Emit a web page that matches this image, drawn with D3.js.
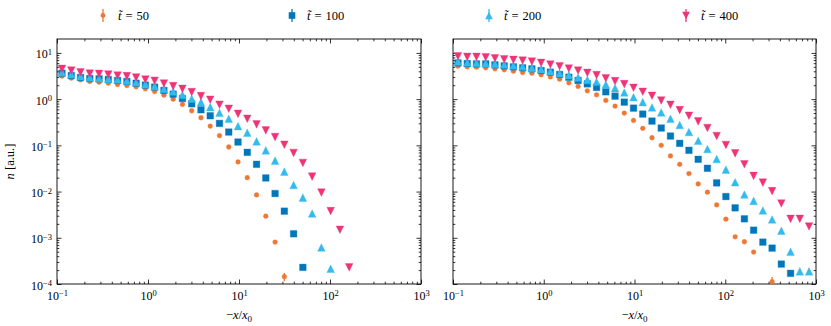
<!DOCTYPE html>
<html><head><meta charset="utf-8">
<script src="https://cdn.jsdelivr.net/npm/d3@7"></script>
<style>
body{margin:0;background:#fff}
svg{display:block}
svg text{font-family:"Liberation Serif","Times New Roman","DejaVu Serif",serif !important;fill:#000}
</style>
</head><body><svg id="c" width="831" height="326" font-family="Liberation Serif, DejaVu Serif, serif"></svg>
<script>
// ---------------- data ----------------
const seriesLabels = ["50", "100", "200", "400"];
const seriesColors = ["#EE7733", "#0077BB", "#33BBEE", "#EE3377"];
const seriesShapes = ["circle", "square", "up", "down"];

// bin centres (-x/x0), shared by both panels
const xBins = [0.1135,0.1435,0.1814,0.2293,0.2899,0.3664,0.4632,0.5856,0.7402,0.9358,
  1.183,1.496,1.891,2.390,3.021,3.819,4.829,6.104,7.716,9.754,
  12.33,15.59,19.70,24.91,31.49,39.81,50.33,63.62,80.43,101.7,
  128.5,162.5,205.4,259.7,328.3,415.0,524.6,663.2,838.4];

// left panel
const leftT50  = [3.14,2.84,2.61,2.41,2.33,2.21,2.07,1.97,1.85,1.67,1.46,1.22,1.0,0.767,0.56,0.395,0.261,0.162,0.092,0.0437,0.0200,0.00847,0.00294,0.000806,0.000144];
const leftT100 = [3.64,3.24,2.94,2.79,2.75,2.66,2.53,2.41,2.21,2.01,1.82,1.54,1.28,1.03,0.793,0.589,0.437,0.298,0.194,0.118,0.0706,0.0389,0.0197,0.00906,0.00377,0.00122,0.000229];
const leftT200 = [3.83,3.46,3.14,2.94,2.84,2.75,2.66,2.49,2.33,2.11,1.91,1.67,1.46,1.24,1.02,0.861,0.672,0.507,0.376,0.261,0.188,0.122,0.078,0.0467,0.027,0.0139,0.0074,0.00335,0.000618,0.000214];
const leftT400 = [4.52,4.16,3.83,3.58,3.52,3.41,3.24,3.14,2.94,2.66,2.49,2.18,1.91,1.67,1.42,1.16,0.97,0.755,0.62,0.48,0.376,0.284,0.211,0.151,0.103,0.0684,0.0416,0.0211,0.0095,0.00377,0.00149,0.000229];

// right panel
const rightT50  = [5.16,4.99,4.91,4.75,4.52,4.30,4.02,3.76,3.64,3.35,3.03,2.70,2.25,1.88,1.51,1.24,0.936,0.706,0.499,0.346,0.233,0.146,0.100,0.0589,0.0389,0.0245,0.0146,0.00968,0.00515,0.00253,0.00105,0.00082,0.00049,null,0.000112];
const rightT100 = [6.08,5.89,5.79,5.79,5.51,5.24,4.99,4.75,4.52,4.16,3.83,3.41,2.98,2.53,2.14,1.79,1.44,1.16,0.861,0.639,0.475,0.335,0.237,0.159,0.1104,0.078,0.0499,0.0319,0.0154,0.0078,0.00444,0.00257,0.00146,0.000806,0.000598,0.00027,0.00017];
const rightT200 = [6.50,6.19,6.08,5.98,5.79,5.60,5.33,5.07,4.75,4.44,4.02,3.64,3.30,2.94,2.61,2.37,2.07,1.73,1.39,1.10,0.861,0.661,0.515,0.376,0.275,0.194,0.126,0.0834,0.0507,0.0299,0.0159,0.00861,0.00629,0.00389,0.00249,0.00142,0.000499,0.000188,0.000188];
const rightT400 = [8.48,8.20,8.20,8.06,7.67,7.30,7.06,6.83,6.50,6.08,5.60,5.16,4.59,4.16,3.70,3.30,2.84,2.45,2.11,1.76,1.44,1.18,0.936,0.755,0.579,0.437,0.330,0.237,0.159,0.1016,0.0672,0.0389,0.0218,0.0156,0.0102,0.00551,0.00257,0.00257,0.00176];

// visible error bars (absolute), only the last t=50 points carry a visible one
const leftErrT50  = {24: 0.00003};
const rightErrT50 = {34: 0.00003};

const xTickValues = [0.1, 1, 10, 100, 1000];
const yTickValues = [1e-4, 1e-3, 1e-2, 1e-1, 1, 10];

// ---------------- drawing ----------------
const FONT = '"Liberation Serif","DejaVu Serif",serif';
const svg = d3.select("#c");
const yTop = 39, yBottom = 284;
const panels = [
  {x0: 57,  x1: 421, showY: true,  series: [leftT50, leftT100, leftT200, leftT400],  err: leftErrT50},
  {x0: 453, x1: 816, showY: false, series: [rightT50, rightT100, rightT200, rightT400], err: rightErrT50}
];

function minorTicks(lo, hi) {
  const out = [];
  for (let e = Math.floor(Math.log10(lo)); e <= Math.ceil(Math.log10(hi)); e++) {
    for (let m = 2; m <= 9; m++) {
      const v = m * Math.pow(10, e);
      if (v > lo && v < hi) out.push(v);
    }
  }
  return out;
}
function expText(v) {
  const e = Math.round(Math.log10(v));
  return (e < 0 ? "\u2212" : "") + Math.abs(e);
}
function symbolPath(shape) {
  if (shape === "circle") return d3.symbol(d3.symbolCircle, Math.PI * 2.4 * 2.4)();
  if (shape === "square") { const s = 3.3; return `M${-s},${-s}H${s}V${s}H${-s}Z`; }
  const h = 3.8;
  if (shape === "up") return `M0,${-h}L${h},${h}L${-h},${h}Z`;
  return `M0,${h}L${h},${-h}L${-h},${-h}Z`;
}

panels.forEach((p, pi) => {
  const x = d3.scaleLog().domain([0.1, 1000]).range([p.x0, p.x1]);
  const y = d3.scaleLog().domain([1e-4, 20]).range([yBottom, yTop]);
  const g = svg.append("g");

  const clipId = "clip" + pi;
  svg.append("clipPath").attr("id", clipId).append("rect")
    .attr("x", p.x0).attr("y", yTop).attr("width", p.x1 - p.x0).attr("height", yBottom - yTop);

  const xMinor = minorTicks(0.1, 1000);
  const yMinor = minorTicks(1e-4, 20);

  function styleAxis(sel) {
    sel.attr("font-family", FONT);
    sel.select(".domain").remove();
    sel.selectAll(".tick line").attr("stroke", "#000").attr("stroke-width", 0.8);
  }
  // bottom
  g.append("g").attr("transform", `translate(0,${yBottom})`)
    .call(d3.axisBottom(x).tickValues(xTickValues).tickSizeInner(-4.5).tickSizeOuter(0).tickPadding(7)
      .tickFormat(() => ""))
    .call(styleAxis)
    .call(s => s.selectAll(".tick text").each(function(d) {
      const t = d3.select(this).attr("font-size", "12px").style("font-family", FONT);
      t.append("tspan").text("10");
      t.append("tspan").attr("dy", "-0.42em").attr("font-size", "8.5px").text(expText(d));
    }));
  g.append("g").attr("transform", `translate(0,${yBottom})`)
    .call(d3.axisBottom(x).tickValues(xMinor).tickSizeInner(-2.3).tickSizeOuter(0).tickFormat(() => ""))
    .call(styleAxis);
  // top
  g.append("g").attr("transform", `translate(0,${yTop})`)
    .call(d3.axisTop(x).tickValues(xTickValues).tickSizeInner(-4.5).tickSizeOuter(0).tickFormat(() => ""))
    .call(styleAxis);
  g.append("g").attr("transform", `translate(0,${yTop})`)
    .call(d3.axisTop(x).tickValues(xMinor).tickSizeInner(-2.3).tickSizeOuter(0).tickFormat(() => ""))
    .call(styleAxis);
  // left
  g.append("g").attr("transform", `translate(${p.x0},0)`)
    .call(d3.axisLeft(y).tickValues(yTickValues).tickSizeInner(-4.5).tickSizeOuter(0).tickPadding(5)
      .tickFormat(() => ""))
    .call(styleAxis)
    .call(s => {
      if (!p.showY) return;
      s.selectAll(".tick text").each(function(d) {
        const t = d3.select(this).attr("font-size", "12px").attr("dy", "0.42em").attr("x", -5)
          .style("font-family", FONT);
        t.append("tspan").text("10");
        t.append("tspan").attr("dy", "-0.42em").attr("font-size", "8.5px").text(expText(d));
      });
    });
  g.append("g").attr("transform", `translate(${p.x0},0)`)
    .call(d3.axisLeft(y).tickValues(yMinor).tickSizeInner(-2.3).tickSizeOuter(0).tickFormat(() => ""))
    .call(styleAxis);
  // right
  g.append("g").attr("transform", `translate(${p.x1},0)`)
    .call(d3.axisRight(y).tickValues(yTickValues).tickSizeInner(-4.5).tickSizeOuter(0).tickFormat(() => ""))
    .call(styleAxis);
  g.append("g").attr("transform", `translate(${p.x1},0)`)
    .call(d3.axisRight(y).tickValues(yMinor).tickSizeInner(-2.3).tickSizeOuter(0).tickFormat(() => ""))
    .call(styleAxis);

  // frame
  g.append("rect").attr("x", p.x0).attr("y", yTop).attr("width", p.x1 - p.x0).attr("height", yBottom - yTop)
    .attr("fill", "none").attr("stroke", "#000").attr("stroke-width", 0.9);

  // data
  const dg = g.append("g").attr("clip-path", `url(#${clipId})`);
  p.series.forEach((vals, si) => {
    const pts = vals.map((v, i) => ({x: xBins[i], v, i})).filter(d => d.v != null);
    const sg = dg.append("g");
    pts.forEach(d => {
      if (si === 0 && p.err[d.i] != null) {
        const e = p.err[d.i];
        sg.append("line").attr("x1", x(d.x)).attr("x2", x(d.x))
          .attr("y1", y(d.v + e)).attr("y2", y(Math.max(d.v - e, 1e-6)))
          .attr("stroke", seriesColors[si]).attr("stroke-width", 1.3);
      }
    });
    sg.selectAll("path").data(pts).join("path")
      .attr("d", symbolPath(seriesShapes[si]))
      .attr("transform", d => `translate(${x(d.x)},${y(d.v)})`)
      .attr("fill", seriesColors[si])
      .attr("stroke", seriesColors[si]).attr("stroke-opacity", 0.35).attr("stroke-width", 1);
  });

  // x label
  const xl = g.append("text").attr("x", (p.x0 + p.x1) / 2).attr("y", 319)
    .attr("text-anchor", "middle").attr("font-size", "12.5px").style("font-family", FONT);
  xl.append("tspan").text("\u2212");
  xl.append("tspan").attr("font-style", "italic").text("x");
  xl.append("tspan").text("/");
  xl.append("tspan").attr("font-style", "italic").text("x");
  xl.append("tspan").attr("dy", "0.3em").attr("font-size", "9px").text("0");
});

// y label
const yl = svg.append("text").attr("transform", `translate(14,${(yTop + yBottom) / 2}) rotate(-90)`)
  .attr("text-anchor", "middle").attr("font-size", "12.5px").style("font-family", FONT);
yl.append("tspan").attr("font-style", "italic").text("n");
yl.append("tspan").text(" [a.u.]");

// legend
const legendX = [103, 292, 489, 686];
seriesLabels.forEach((lab, i) => {
  const lg = svg.append("g").attr("transform", `translate(${legendX[i]},15.5)`);
  lg.append("line").attr("y1", -6.5).attr("y2", 6.5).attr("stroke", seriesColors[i]).attr("stroke-width", 1.3);
  lg.append("path").attr("d", symbolPath(seriesShapes[i])).attr("fill", seriesColors[i]);
  const t = lg.append("text").attr("x", 15).attr("y", 4.5).attr("font-size", "12.5px").style("font-family", FONT);
  t.append("tspan").attr("font-style", "italic").text("t\u0303");
  t.append("tspan").attr("dx", 4).text("=");
  t.append("tspan").attr("dx", 4).text(lab);
});
</script>
</body></html>
